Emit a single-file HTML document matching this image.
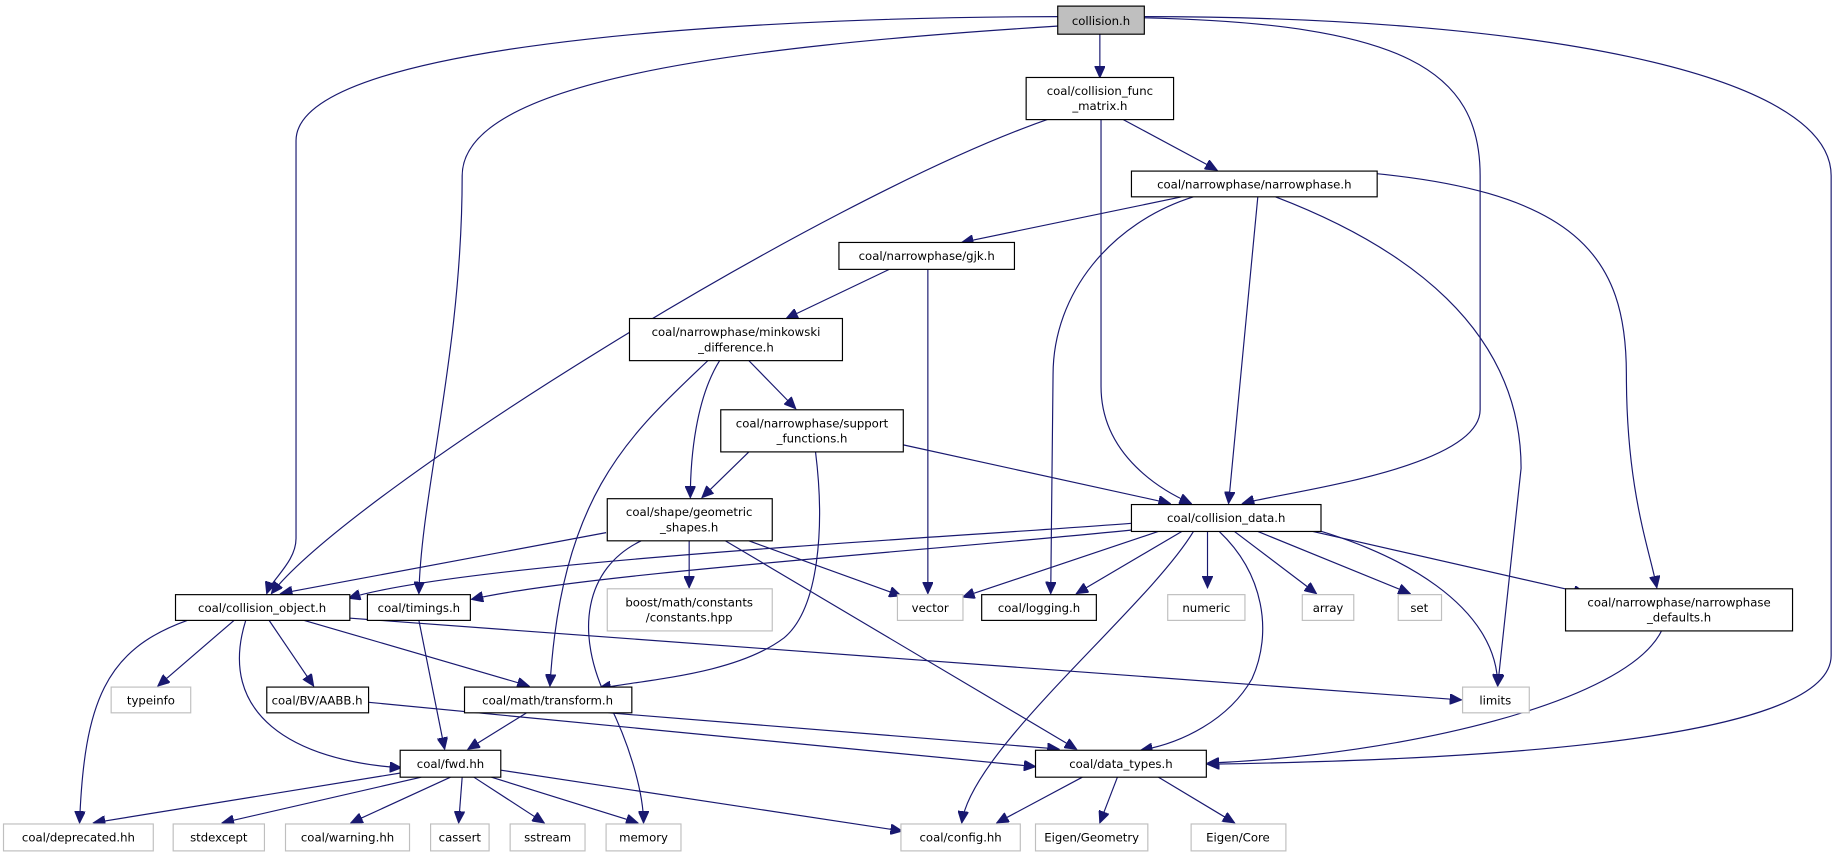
<!DOCTYPE html>
<html><head><meta charset="utf-8"><style>
html,body{margin:0;padding:0;background:#fff;}
svg{display:block}
text{font-family:"DejaVu Sans","Liberation Sans",sans-serif;font-size:10px;fill:#000;text-anchor:middle}
.n{fill:#fff;stroke:#000;stroke-width:1}
.g{fill:#fff;stroke:#bfbfbf;stroke-width:1}
.e{fill:none;stroke:#191970;stroke-width:1}
</style></head><body>
<svg width="1837" height="857" viewBox="0 0 1570 732" xmlns="http://www.w3.org/2000/svg">
<defs><marker id="a" markerUnits="userSpaceOnUse" markerWidth="11" markerHeight="9" refX="10" refY="4.5" orient="auto"><path d="M0,0 L10,4.5 L0,9 z" fill="#191970" stroke="#191970"/></marker></defs>
<g marker-end="url(#a)">
<path class="e" d="M940,29 L940,66"/>
<path class="e" d="M904,14 C700,14 253,30 253,120 L253,460 C253,480 232,495 228,507"/>
<path class="e" d="M905,22 C620,40 395,70 395,150 C395,300 360,420 358,507"/>
<path class="e" d="M978,15 C1200,20 1265,60 1265,150 L1265,350 C1265,400 1100,420 1062,430"/>
<path class="e" d="M978,14 C1300,14 1565,60 1565,150 L1565,560 C1565,640 1200,650 1032,653"/>
<path class="e" d="M895,102 C700,170 300,420 232,507"/>
<path class="e" d="M941,102 L941,330 C941,390 995,420 1018,430"/>
<path class="e" d="M960,102 L1040,145"/>
<path class="e" d="M1010,168 L822,207"/>
<path class="e" d="M1020,168 C950,190 900,250 900,320 L898,507"/>
<path class="e" d="M1075,168 L1050,430"/>
<path class="e" d="M1090,168 C1200,210 1300,280 1300,400 L1280,586"/>
<path class="e" d="M1150,146 C1350,160 1390,220 1390,320 C1390,420 1410,470 1416,502"/>
<path class="e" d="M760,230 L672,272"/>
<path class="e" d="M793,230 L793,507"/>
<path class="e" d="M640,308 L680,349"/>
<path class="e" d="M615,308 C595,340 590,390 590,425"/>
<path class="e" d="M605,308 C540,370 480,420 470,586"/>
<path class="e" d="M640,386 L600,425"/>
<path class="e" d="M772,380 L1000,430"/>
<path class="e" d="M697,386 C705,450 700,520 670,545 C630,575 560,580 512,588"/>
<path class="e" d="M518,455 L240,507"/>
<path class="e" d="M589,462 L589,502"/>
<path class="e" d="M640,462 L770,509"/>
<path class="e" d="M548,462 C500,485 490,540 520,600 C540,640 550,680 550,703"/>
<path class="e" d="M620,462 L920,640"/>
<path class="e" d="M967,447 C800,460 400,480 298,511"/>
<path class="e" d="M975,452 C800,470 500,490 403,512"/>
<path class="e" d="M990,454 L823,510"/>
<path class="e" d="M1010,454 L920,507"/>
<path class="e" d="M1032,454 L1032,502"/>
<path class="e" d="M1055,454 L1125,507"/>
<path class="e" d="M1075,454 L1205,507"/>
<path class="e" d="M1100,449 L1355,507"/>
<path class="e" d="M1100,446 C1200,470 1280,520 1280,586"/>
<path class="e" d="M1042,454 C1080,490 1088,540 1070,580 C1050,615 1010,635 975,641"/>
<path class="e" d="M1020,454 C980,520 830,640 822,703"/>
<path class="e" d="M200,530 L135,586"/>
<path class="e" d="M230,530 L268,586"/>
<path class="e" d="M260,530 L452,586"/>
<path class="e" d="M298,528 L1249,598"/>
<path class="e" d="M210,530 C185,610 250,650 343,656"/>
<path class="e" d="M160,530 C90,555 72,600 68,703"/>
<path class="e" d="M358,530 L380,640"/>
<path class="e" d="M315,600 L885,655"/>
<path class="e" d="M450,609 L400,640"/>
<path class="e" d="M520,609 L905,640"/>
<path class="e" d="M1420,539 C1390,600 1200,645 1032,652"/>
<path class="e" d="M345,660 L80,703"/>
<path class="e" d="M360,664 L190,703"/>
<path class="e" d="M385,664 L300,703"/>
<path class="e" d="M395,664 L392,703"/>
<path class="e" d="M405,664 L465,703"/>
<path class="e" d="M420,664 L545,703"/>
<path class="e" d="M428,658 L771,710"/>
<path class="e" d="M925,664 L852,703"/>
<path class="e" d="M955,664 L940,703"/>
<path class="e" d="M990,664 L1055,703"/>
</g>
<rect x="904" y="5" width="74" height="24" fill="#bfbfbf" stroke="#000"/><text x="941" y="21">collision.h</text>
<rect class="n" x="877" y="66" width="126" height="36"/><text x="940" y="81">coal/collision_func</text><text x="940" y="94">_matrix.h</text>
<rect class="n" x="967" y="146" width="210" height="22"/><text x="1072" y="161">coal/narrowphase/narrowphase.h</text>
<rect class="n" x="717" y="207" width="150" height="23"/><text x="792" y="222">coal/narrowphase/gjk.h</text>
<rect class="n" x="538" y="272" width="182" height="36"/><text x="629" y="287">coal/narrowphase/minkowski</text><text x="629" y="300">_difference.h</text>
<rect class="n" x="616" y="350" width="156" height="36"/><text x="694" y="365">coal/narrowphase/support</text><text x="694" y="378">_functions.h</text>
<rect class="n" x="519" y="426" width="141" height="36"/><text x="589" y="441">coal/shape/geometric</text><text x="589" y="454">_shapes.h</text>
<rect class="n" x="967" y="431" width="162" height="23"/><text x="1048" y="446">coal/collision_data.h</text>
<rect class="n" x="150" y="508" width="149" height="22"/><text x="224" y="523">coal/collision_object.h</text>
<rect class="n" x="314" y="508" width="88" height="22"/><text x="358" y="523">coal/timings.h</text>
<rect class="g" x="519" y="503" width="141" height="36"/><text x="589" y="518">boost/math/constants</text><text x="589" y="531">/constants.hpp</text>
<rect class="g" x="767" y="508" width="56" height="22"/><text x="795" y="523">vector</text>
<rect class="n" x="839" y="508" width="98" height="22"/><text x="888" y="523">coal/logging.h</text>
<rect class="g" x="998" y="508" width="66" height="22"/><text x="1031" y="523">numeric</text>
<rect class="g" x="1113" y="508" width="44" height="22"/><text x="1135" y="523">array</text>
<rect class="g" x="1195" y="508" width="37" height="22"/><text x="1213" y="523">set</text>
<rect class="n" x="1338" y="503" width="194" height="36"/><text x="1435" y="518">coal/narrowphase/narrowphase</text><text x="1435" y="531">_defaults.h</text>
<rect class="g" x="95" y="587" width="68" height="22"/><text x="129" y="602">typeinfo</text>
<rect class="n" x="228" y="587" width="87" height="22"/><text x="271" y="602">coal/BV/AABB.h</text>
<rect class="n" x="397" y="587" width="143" height="22"/><text x="468" y="602">coal/math/transform.h</text>
<rect class="g" x="1250" y="587" width="57" height="22"/><text x="1278" y="602">limits</text>
<rect class="n" x="342" y="641" width="86" height="23"/><text x="385" y="656">coal/fwd.hh</text>
<rect class="n" x="885" y="641" width="146" height="23"/><text x="958" y="656">coal/data_types.h</text>
<rect class="g" x="3" y="704" width="128" height="23"/><text x="67" y="719">coal/deprecated.hh</text>
<rect class="g" x="148" y="704" width="78" height="23"/><text x="187" y="719">stdexcept</text>
<rect class="g" x="244" y="704" width="106" height="23"/><text x="297" y="719">coal/warning.hh</text>
<rect class="g" x="368" y="704" width="50" height="23"/><text x="393" y="719">cassert</text>
<rect class="g" x="436" y="704" width="64" height="23"/><text x="468" y="719">sstream</text>
<rect class="g" x="518" y="704" width="64" height="23"/><text x="550" y="719">memory</text>
<rect class="g" x="770" y="704" width="102" height="23"/><text x="821" y="719">coal/config.hh</text>
<rect class="g" x="885" y="704" width="96" height="23"/><text x="933" y="719">Eigen/Geometry</text>
<rect class="g" x="1018" y="704" width="81" height="23"/><text x="1058" y="719">Eigen/Core</text>
</svg>
</body></html>
